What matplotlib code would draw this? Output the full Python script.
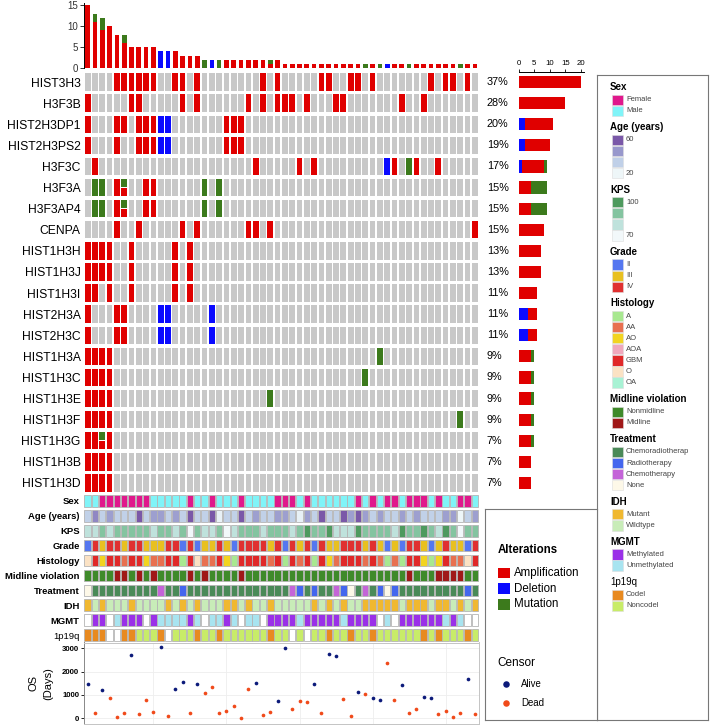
import numpy as np
import matplotlib
matplotlib.use("Agg")
import matplotlib.pyplot as plt
from matplotlib.colors import LinearSegmentedColormap, Normalize
from matplotlib.patches import Rectangle

plt.rcParams['font.family'] = ['Liberation Sans', 'DejaVu Sans']

W, H = 710, 725
N = 54  # patients

# ---- alteration data (column indices per gene) ----
genes = ["HIST3H3", "H3F3B", "HIST2H3DP1", "HIST2H3PS2", "H3F3C", "H3F3A",
         "H3F3AP4", "CENPA", "HIST1H3H", "HIST1H3J", "HIST1H3I", "HIST2H3A",
         "HIST2H3C", "HIST1H3A", "HIST1H3C", "HIST1H3E", "HIST1H3F",
         "HIST1H3G", "HIST1H3B", "HIST1H3D"]

amplification = {
    "HIST3H3": [4, 5, 6, 7, 8, 9, 12, 13, 15, 24, 26, 32, 33, 36, 37, 39, 47, 49, 50, 52],
    "H3F3B": [0, 6, 7, 13, 15, 22, 24, 26, 27, 28, 30, 34, 35, 43, 46],
    "HIST2H3DP1": [0, 4, 5, 7, 8, 9, 19, 20, 21],
    "HIST2H3PS2": [0, 4, 7, 8, 9, 19, 20, 21],
    "H3F3C": [1, 23, 29, 31, 42, 45, 48],
    "H3F3A": [4, 5, 8, 9],
    "H3F3AP4": [4, 5, 8, 9],
    "CENPA": [4, 7, 13, 15, 22, 23, 25, 53],
    "HIST1H3H": [0, 1, 2, 3, 6, 12, 14],
    "HIST1H3J": [0, 1, 2, 3, 6, 12, 14],
    "HIST1H3I": [0, 1, 3, 6, 12, 14],
    "HIST2H3A": [0, 4, 5],
    "HIST2H3C": [0, 4, 5],
    "HIST1H3A": [0, 1, 2, 3],
    "HIST1H3C": [0, 1, 2, 3],
    "HIST1H3E": [0, 1, 2, 3],
    "HIST1H3F": [0, 1, 2, 3],
    "HIST1H3G": [0, 1, 2, 3],
    "HIST1H3B": [0, 1, 2, 3],
    "HIST1H3D": [0, 1, 2, 3],
}
deletion = {
    "HIST2H3DP1": [10, 11],
    "HIST2H3PS2": [10, 11],
    "H3F3C": [41],
    "HIST2H3A": [10, 11, 17],
    "HIST2H3C": [10, 11, 17],
}
mutation = {
    "H3F3C": [44],
    "H3F3A": [1, 2, 5, 16, 18],
    "H3F3AP4": [1, 2, 5, 16, 18],
    "HIST1H3A": [40],
    "HIST1H3C": [38],
    "HIST1H3E": [25],
    "HIST1H3F": [51],
    "HIST1H3G": [2],
}

# ---- clinical annotation tracks ----
sex = ["M", "M", "F", "F", "F", "F", "F", "F", "F", "M", "M", "M", "M", "M", "F", "M", "M", "F",
       "M", "M", "M", "F", "M", "M", "M", "M", "F", "F", "F", "M", "F", "M", "M", "M", "M", "M",
       "M", "F", "M", "F", "M", "F", "F", "M", "F", "F", "F", "M", "F", "M", "M", "F", "F", "M"]
age = [33, 50, 33, 45, 33, 33, 33, 60, 33, 45, 45, 33, 45, 33, 60, 33, 33, 60, 22, 33, 33, 60,
       33, 45, 33, 33, 45, 45, 33, 22, 45, 33, 60, 33, 33, 60, 45, 60, 45, 33, 45, 33, 33, 45,
       33, 45, 33, 33, 33, 45, 45, 20, 33, 45]
kps = [80, 80, 90, 80, 90, 90, 90, 90, 90, 80, 90, 90, 80, 90, 70, 90, 80, 80, 90, 70, 80, 90,
       90, 90, 80, 90, 90, 90, 80, 90, 100, 90, 90, 100, 80, 80, 80, 100, 90, 90, 90, 90, 80,
       100, 90, 90, 100, 90, 80, 100, 90, 70, 90, 90]
grade = ["II", "IV", "III", "IV", "IV", "III", "IV", "IV", "III", "III", "III", "IV", "IV", "II",
         "IV", "II", "III", "III", "IV", "III", "II", "IV", "IV", "IV", "IV", "III", "IV", "II",
         "IV", "III", "IV", "II", "IV", "III", "III", "IV", "IV", "IV", "III", "IV", "III", "II",
         "III", "II", "IV", "IV", "III", "II", "III", "IV", "III", "III", "II", "IV"]
histology = ["O", "GBM", "AO", "GBM", "GBM", "AA", "GBM", "GBM", "AO", "AA", "AA", "GBM", "GBM",
             "A", "GBM", "O", "AA", "AA", "GBM", "AO", "A", "GBM", "GBM", "GBM", "GBM", "AA",
             "GBM", "A", "GBM", "AA", "GBM", "A", "GBM", "AO", "AA", "GBM", "GBM", "GBM", "AA",
             "GBM", "AA", "A", "AA", "A", "GBM", "GBM", "AO", "A", "AO", "GBM", "AA", "AA", "O",
             "GBM"]
midline_cols = [4, 5, 7, 9, 14, 16, 21, 44, 48, 49, 50, 51]
treatment = {"Chemotherapy": [10, 28, 34, 38], "Radiotherapy": [13, 29, 31, 35, 40, 42, 52],
             "None": [0, 36, 41]}
idh_mutant = [0, 2, 6, 11, 13, 15, 19, 20, 22, 25, 31, 33, 35, 38, 39, 40, 41, 42, 44, 45, 46,
              48, 49, 51, 53]
mgmt = ["NA", "Me", "Me", "NA", "Un", "Me", "Me", "Me", "NA", "Me", "Un", "Un", "Un", "Un", "Me",
        "Un", "NA", "Un", "Un", "Me", "Un", "NA", "Un", "Un", "NA", "Me", "Me", "Me", "Me", "Un",
        "Me", "Me", "Me", "Me", "Me", "Un", "Me", "Me", "Me", "Me", "NA", "Un", "NA", "Me", "Me",
        "Me", "Me", "Me", "Me", "Un", "Me", "Un", "NA", "NA"]
codel = ["Co", "Co", "Co", "NA", "NA", "Co", "Co", "No", "No", "No", "Co", "NA", "No", "No", "No",
         "Co", "No", "No", "Co", "No", "No", "No", "No", "No", "No", "Co", "No", "No", "NA", "No",
         "NA", "No", "No", "Co", "No", "No", "Co", "No", "No", "Co", "No", "No", "No", "No", "No",
         "No", "Co", "No", "Co", "No", "No", "No", "Co", "No"]

# ---- overall survival ----
os_days = [1485, 212, 1230, 850, 70, 212, 2690, 170, 765, 255, 3040, 113, 1270, 1570, 212, 1470,
           1090, 1340, 212, 297, 537, 30, 1245, 1530, 141, 270, 735, 3000, 410, 735, 693, 1470,
           240, 2730, 2660, 835, 85, 1145, 1020, 863, 790, 2350, 790, 1415, 240, 396, 933, 890,
           170, 297, 57, 212, 1680, 170]
alive_cols = [0, 2, 6, 10, 12, 13, 15, 23, 26, 27, 31, 33, 34, 37, 39, 40, 43, 46, 47, 52]

# ---- colours ----
C_AMP, C_DEL, C_MUT, C_GRAY = "#e00000", "#0a0aff", "#3c7a1c", "#c8c8c8"
sex_col = {"F": "#e0188c", "M": "#80f4f8"}
age_levels = ["#7a58a8", "#9898cc", "#c0d0e8", "#eef6f8"]
kps_col = {100: "#4e9a5e", 90: "#84c4a0", 80: "#bfe2dc", 70: "#f2f8fa"}
grade_col = {"II": "#5577f0", "III": "#e8c020", "IV": "#e03030"}
hist_col = {"A": "#a8e890", "AA": "#e87050", "AO": "#f2d420", "AOA": "#f0a8bc",
            "GBM": "#e02828", "O": "#fbe2c4", "OA": "#a8f2d4"}
mid_col = {"Nonmidline": "#3f8a2a", "Midline": "#a01818"}
treat_col = {"Chemoradiotherap": "#4a8a58", "Radiotherapy": "#4466ee",
             "Chemotherapy": "#c464d8", "None": "#fdf8e8"}
idh_col = {"Mutant": "#f0b830", "Wildtype": "#c8ecb8"}
mgmt_col = {"Me": "#9a30e8", "Un": "#a8e4f0", "NA": "white"}
codel_col = {"Co": "#e88a20", "No": "#c8ec68", "NA": "white"}
C_ALIVE, C_DEAD = "#0c1a7a", "#f04a1a"


def box(l, t, r, b):
    return [l / W, 1 - b / H, (r - l) / W, (b - t) / H]


ng = len(genes)
amp_m = np.zeros((ng, N), bool)
del_m = np.zeros((ng, N), bool)
mut_m = np.zeros((ng, N), bool)
for i, g in enumerate(genes):
    amp_m[i, amplification.get(g, [])] = True
    del_m[i, deletion.get(g, [])] = True
    mut_m[i, mutation.get(g, [])] = True

x = np.arange(N) + 0.5
fig = plt.figure(figsize=(W / 100, H / 100), dpi=100)

# top bar: alterations per patient
ax_top = fig.add_axes(box(84, 3, 478.5, 68.3))
a_cnt, d_cnt, m_cnt = amp_m.sum(0), del_m.sum(0), mut_m.sum(0)
ax_top.bar(x, a_cnt, width=0.64, color=C_AMP)
ax_top.bar(x, d_cnt, width=0.64, bottom=a_cnt, color=C_DEL)
ax_top.bar(x, m_cnt, width=0.64, bottom=a_cnt + d_cnt, color=C_MUT)
ax_top.set_xlim(0, N)
ax_top.set_ylim(0, 15.5)
ax_top.set_yticks([0, 5, 10, 15])
ax_top.set_xticks([])
for s in ["top", "right", "bottom"]:
    ax_top.spines[s].set_visible(False)
ax_top.spines["left"].set_linewidth(0.7)
ax_top.tick_params(axis="y", labelsize=7, length=3, width=0.7, pad=1.5, colors="#333333")

# oncoprint matrix
ax_mat = fig.add_axes(box(84, 71.5, 478.5, 493.5))
for r in range(ng):
    a, d, m = amp_m[r], del_m[r], mut_m[r]
    gray = ~(a | d | m)
    ax_mat.bar(x[gray], 0.82, width=0.78, bottom=r + 0.09, color=C_GRAY)
    ax_mat.bar(x[a & ~m], 0.82, width=0.78, bottom=r + 0.09, color=C_AMP)
    ax_mat.bar(x[d], 0.82, width=0.78, bottom=r + 0.09, color=C_DEL)
    ax_mat.bar(x[m & ~a], 0.82, width=0.78, bottom=r + 0.09, color=C_MUT)
    both = a & m
    ax_mat.bar(x[both], 0.38, width=0.78, bottom=r + 0.09, color=C_MUT)
    ax_mat.bar(x[both], 0.38, width=0.78, bottom=r + 0.53, color=C_AMP)
ax_mat.set_xlim(0, N)
ax_mat.set_ylim(ng, 0)
ax_mat.set_xticks([])
ax_mat.set_yticks(np.arange(ng) + 0.5, genes)
ax_mat.tick_params(axis="y", length=0, pad=2.5, labelsize=8.7)
for s in ax_mat.spines.values():
    s.set_visible(False)

# right bar: alterations per gene + percentages
ax_rb = fig.add_axes(box(518.7, 71.5, 583.5, 493.5))
ga, gd, gm = amp_m.sum(1), del_m.sum(1), mut_m.sum(1)
yr = np.arange(ng) + 0.5
ax_rb.barh(yr, gd, height=0.58, color=C_DEL)
ax_rb.barh(yr, ga, height=0.58, left=gd, color=C_AMP)
ax_rb.barh(yr, gm, height=0.58, left=gd + ga, color=C_MUT)
pct = np.round(100 * (amp_m | del_m | mut_m).sum(1) / N).astype(int)
for r in range(ng):
    ax_rb.text(-10.2, yr[r], f"{pct[r]}%", ha="left", va="center", fontsize=7.8, clip_on=False)
ax_rb.set_xlim(0, 20.8)
ax_rb.set_ylim(ng, 0)
ax_rb.xaxis.tick_top()
ax_rb.set_xticks([0, 5, 10, 15, 20])
ax_rb.set_yticks([])
for s in ["bottom", "left", "right"]:
    ax_rb.spines[s].set_visible(False)
ax_rb.spines["top"].set_linewidth(0.7)
ax_rb.tick_params(axis="x", labelsize=5.6, length=2.5, width=0.6, pad=1)

# annotation tracks
age_cmap = LinearSegmentedColormap.from_list("age", age_levels[::-1])
age_norm = Normalize(20, 60)
tracks = [
    ("Sex", [sex_col[v] for v in sex]),
    ("Age (years)", [age_cmap(age_norm(v)) for v in age]),
    ("KPS", [kps_col[v] for v in kps]),
    ("Grade", [grade_col[v] for v in grade]),
    ("Histology", [hist_col[v] for v in histology]),
    ("Midline violation", [mid_col["Midline" if i in midline_cols else "Nonmidline"] for i in range(N)]),
    ("Treatment", [treat_col[next((k for k, v in treatment.items() if i in v), "Chemoradiotherap")]
                   for i in range(N)]),
    ("IDH", [idh_col["Mutant" if i in idh_mutant else "Wildtype"] for i in range(N)]),
    ("MGMT", [mgmt_col[v] for v in mgmt]),
    ("1p19q", [codel_col[v] for v in codel]),
]
ax_ann = fig.add_axes(box(84, 493.5, 478.5, 642.5))
for t, (name, colors) in enumerate(tracks):
    ax_ann.bar(x, 0.78, width=0.88, bottom=t + 0.11, color=colors,
               edgecolor="#b4b4b4", linewidth=0.6)
ax_ann.set_xlim(0, N)
ax_ann.set_ylim(len(tracks), 0)
ax_ann.set_xticks([])
ax_ann.set_yticks(np.arange(len(tracks)) + 0.5, [t[0] for t in tracks])
ax_ann.tick_params(axis="y", length=0, pad=3, labelsize=6.8)
for lab in ax_ann.get_yticklabels():
    if lab.get_text() != "1p19q":
        lab.set_fontweight("bold")
for s in ax_ann.spines.values():
    s.set_visible(False)

# overall survival
ax_os = fig.add_axes(box(84, 642.5, 478.5, 724))
alive = np.isin(np.arange(N), alive_cols)
os_arr = np.array(os_days)
ax_os.scatter(x[alive], os_arr[alive], s=7, color=C_ALIVE, lw=0, zorder=3)
ax_os.scatter(x[~alive], os_arr[~alive], s=7, color=C_DEAD, lw=0, zorder=3)
ax_os.set_xlim(0, N)
ax_os.set_ylim(-242, 3242)
ax_os.set_yticks([0, 1000, 2000, 3000])
ax_os.set_xticks([9.5, 19.5, 29.5, 39.5, 49.5])
ax_os.tick_params(axis="x", length=0, labelbottom=False)
ax_os.tick_params(axis="y", labelsize=5.6, length=2, width=0.6, pad=1.5)
for lab in ax_os.get_yticklabels():
    lab.set_fontweight("bold")
ax_os.grid(True, color="#eeeeee", lw=0.6)
for s in ax_os.spines.values():
    s.set_color("#c4c4c4")
    s.set_linewidth(0.7)
ax_os.spines["left"].set_color("#888888")
ax_os.set_ylabel("OS\n(Days)", fontsize=8, labelpad=6, linespacing=1.6)

# clinical legend panel
ax_leg = fig.add_axes(box(597, 75, 708, 720))
ax_leg.set_xlim(597, 708)
ax_leg.set_ylim(720, 75)
ax_leg.set_xticks([])
ax_leg.set_yticks([])
for s in ax_leg.spines.values():
    s.set_color("#777777")
    s.set_linewidth(0.8)
groups = [
    ("Sex", ["Female", "Male"], [sex_col["F"], sex_col["M"]]),
    ("Age (years)", ["60", "", "", "20"], age_levels),
    ("KPS", ["100", "", "", "70"], [kps_col[k] for k in (100, 90, 80, 70)]),
    ("Grade", list(grade_col), list(grade_col.values())),
    ("Histology", list(hist_col), list(hist_col.values())),
    ("Midline violation", list(mid_col), list(mid_col.values())),
    ("Treatment", list(treat_col), list(treat_col.values())),
    ("IDH", list(idh_col), list(idh_col.values())),
    ("MGMT", ["Methylated", "Unmethylated"], [mgmt_col["Me"], mgmt_col["Un"]]),
    ("1p19q", ["Codel", "Noncodel"], [codel_col["Co"], codel_col["No"]]),
]
yy = 87
for title, labels, colors in groups:
    ax_leg.text(610, yy, title, fontsize=7, va="center",
                fontweight="normal" if title == "1p19q" else "bold")
    yy += 7.5
    for lab, c in zip(labels, colors):
        ax_leg.add_patch(Rectangle((611.5, yy), 11, 10.3, facecolor=c,
                                   edgecolor="#dddddd", lw=0.4))
        ax_leg.text(626, yy + 5.2, lab, fontsize=5.5, va="center", color="#444444")
        yy += 11.1
    yy += 10.5

# alterations / censor legend
ax_alt = fig.add_axes(box(485, 509, 597, 720))
ax_alt.set_xlim(485, 597)
ax_alt.set_ylim(720, 509)
ax_alt.set_xticks([])
ax_alt.set_yticks([])
for s in ax_alt.spines.values():
    s.set_color("#777777")
    s.set_linewidth(0.8)
ax_alt.text(498, 550, "Alterations", fontsize=8.3, fontweight="bold", va="center")
for k, (lab, c) in enumerate([("Amplification", C_AMP), ("Deletion", C_DEL), ("Mutation", C_MUT)]):
    yc = 573 + 15.7 * k
    ax_alt.add_patch(Rectangle((498, yc - 5.3), 12, 10.6, facecolor=c, edgecolor="none"))
    ax_alt.text(514, yc, lab, fontsize=8.3, va="center")
ax_alt.text(497, 663, "Censor", fontsize=8.5, va="center")
for k, (lab, c) in enumerate([("Alive", C_ALIVE), ("Dead", C_DEAD)]):
    yc = 684 + 19 * k
    ax_alt.scatter([506], [yc], s=22, color=c, lw=0)
    ax_alt.text(521, yc, lab, fontsize=6.9, va="center")

fig.savefig("out.png", dpi=100)
